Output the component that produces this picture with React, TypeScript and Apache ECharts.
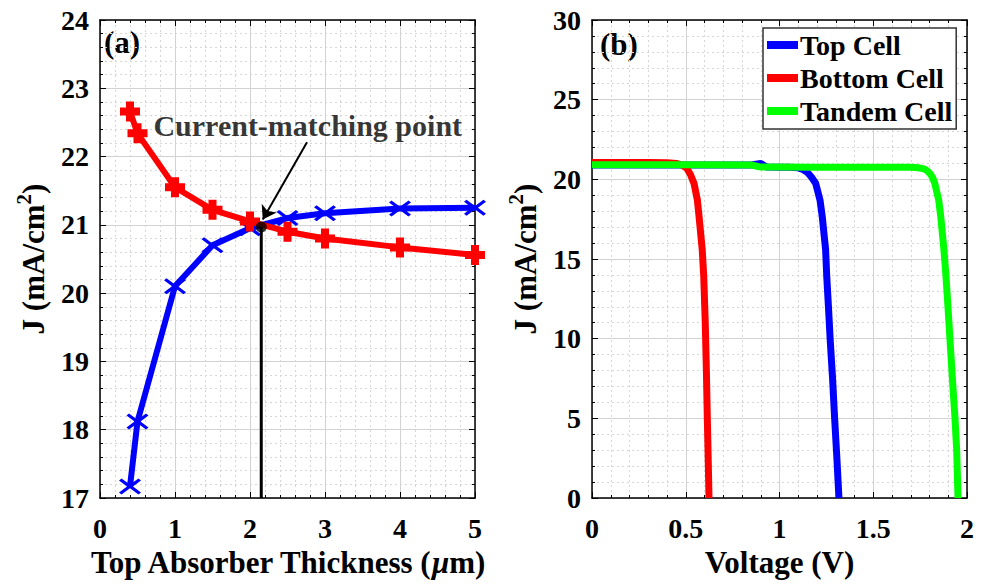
import React, { useEffect, useRef } from 'react';
import * as echarts from 'echarts';

const FONT = '"Liberation Serif", "Times New Roman", serif';

// ---- Panel (a) data ----
const thickness = [0.4, 0.5, 1, 1.5, 2, 2.5, 3, 4, 5];
const topCellJ = [17.17, 18.12, 20.1, 20.7, 20.95, 21.1, 21.17, 21.24, 21.25];
const bottomCellJ = [22.66, 22.34, 21.55, 21.22, 21.05, 20.9, 20.8, 20.67, 20.56];
const matchPoint = [2.15, 20.97];
const arrowStart = [2.76, 22.21];
const arrowEnd = [2.17, 21.08];
const annotationPos = [2.77, 22.46];
const leftXTicks = { min: 0, max: 5, interval: 1 };
const leftYTicks = { min: 17, max: 24, interval: 1 };

// ---- Panel (b) data ----
const topV = [0, 0.3, 0.6, 0.85, 0.9, 0.93, 1.0, 1.05, 1.1, 1.125, 1.148, 1.17, 1.193, 1.216, 1.228, 1.246, 1.252, 1.262, 1.27, 1.283, 1.294, 1.306, 1.317];
const topJ = [20.9, 20.9, 20.9, 20.9, 21.0, 20.78, 20.76, 20.76, 20.72, 20.62, 20.45, 20.15, 19.75, 18.7, 17.66, 15.57, 13.9, 11.8, 10.0, 7.5, 5.0, 2.5, 0];
const bottomV = [0, 0.1, 0.2, 0.3, 0.4, 0.45, 0.48, 0.505, 0.525, 0.544, 0.562, 0.571, 0.588, 0.596, 0.604, 0.61, 0.615, 0.62, 0.624];
const bottomJ = [21.05, 21.05, 21.05, 21.05, 21.04, 21.0, 20.9, 20.7, 20.3, 19.75, 18.7, 17.66, 15.57, 13.9, 11.0, 8.0, 5.0, 2.3, 0];
const tandemV = [0, 0.5, 0.85, 0.9, 1.2, 1.5, 1.7, 1.74, 1.77, 1.79, 1.805, 1.817, 1.828, 1.849, 1.86, 1.877, 1.888, 1.899, 1.909, 1.922, 1.936, 1.945, 1.952];
const tandemJ = [20.92, 20.92, 20.9, 20.77, 20.76, 20.76, 20.76, 20.73, 20.66, 20.52, 20.33, 20.1, 19.75, 18.7, 17.66, 15.57, 13.9, 11.9, 10.0, 7.5, 5.0, 3.0, 0];
const rightXTicks = { min: 0, max: 2, interval: 0.5 };
const rightYTicks = { min: 0, max: 30, interval: 5 };

const legendNames = ['Top Cell', 'Bottom Cell', 'Tandem Cell'];
const colors = { top: '#0000ff', bottom: '#ff0000', tandem: '#00ff00' };

const zip = (xs: number[], ys: number[]) => xs.map((x, i) => [x, ys[i]]);

const X_SYMBOL = 'path://M0,2 L2.5,0 L11,6.2 L19.5,0 L22,2 L14,8 L22,14 L19.5,16 L11,9.8 L2.5,16 L0,14 L8,8 Z';
const PLUS_SYMBOL = 'path://M6,0 L14,0 L14,6 L20,6 L20,14 L14,14 L14,20 L6,20 L6,14 L0,14 L0,6 L6,6 Z';

const labelStyle = { color: '#000', fontFamily: FONT, fontWeight: 'bold' as const, fontSize: 28 };
const titleRich = {
  a: { fontFamily: FONT, fontWeight: 'bold' as const, fontSize: 31, color: '#000' },
  i: { fontFamily: FONT, fontWeight: 'bold' as const, fontStyle: 'italic' as const, fontSize: 31, color: '#000' },
  s: { fontFamily: FONT, fontWeight: 'bold' as const, fontSize: 21, color: '#000', padding: [0, 0, 20, 0] },
};

function mainAxis(grid: number, ticks: any, position: string, name: string, nameGap: number, labelMargin: number) {
  return {
    type: 'value',
    gridIndex: grid,
    position,
    ...ticks,
    name,
    nameLocation: 'middle',
    nameGap,
    nameTextStyle: { rich: titleRich },
    axisLine: { show: true, onZero: false, lineStyle: { color: '#000', width: 1.5 } },
    axisTick: { show: true, inside: true, length: 6, lineStyle: { color: '#000', width: 1 } },
    minorTick: { show: true, splitNumber: 5, length: 3, lineStyle: { color: '#000', width: 1 } },
    splitLine: { show: true, lineStyle: { color: '#d2d2d2', width: 1 } },
    minorSplitLine: { show: true, lineStyle: { color: '#d6d6d6', width: 1, type: [2, 3] } },
    axisLabel: { ...labelStyle, margin: labelMargin, showMinLabel: true, showMaxLabel: true, hideOverlap: false },
  };
}

function boxAxis(grid: number, ticks: any, position: string) {
  return {
    type: 'value',
    gridIndex: grid,
    position,
    ...ticks,
    axisLine: { show: true, onZero: false, lineStyle: { color: '#000', width: 1.5 } },
    axisTick: { show: true, inside: true, length: 6, lineStyle: { color: '#000', width: 1 } },
    minorTick: { show: true, splitNumber: 5, length: 3, lineStyle: { color: '#000', width: 1 } },
    splitLine: { show: false },
    minorSplitLine: { show: false },
    axisLabel: { show: false },
  };
}

export default function App() {
  const ref = useRef<HTMLDivElement>(null);
  useEffect(() => {
    if (!ref.current) return;
    const chart = echarts.init(ref.current, undefined, { renderer: 'svg' });
    const option: any = {
      animation: false,
      backgroundColor: '#fff',
      grid: [
        { left: 100, top: 20, width: 375, height: 478 },
        { left: 592, top: 20, width: 375, height: 478 },
      ],
      xAxis: [
        mainAxis(0, leftXTicks, 'bottom', '{a|Top Absorber Thickness (}{i|μ}{a|m)}', 46, 16),
        boxAxis(0, leftXTicks, 'top'),
        mainAxis(1, rightXTicks, 'bottom', '{a|Voltage (V)}', 46, 16),
        boxAxis(1, rightXTicks, 'top'),
      ],
      yAxis: [
        mainAxis(0, leftYTicks, 'left', '{a|J (mA/cm}{s|2}{a|)}', 46, 11),
        boxAxis(0, leftYTicks, 'right'),
        mainAxis(1, rightYTicks, 'left', '{a|J (mA/cm}{s|2}{a|)}', 46, 11),
        boxAxis(1, rightYTicks, 'right'),
      ],
      legend: {
        data: legendNames,
        orient: 'vertical',
        left: 763,
        top: 28,
        itemWidth: 31,
        itemHeight: 8,
        itemGap: 5,
        icon: 'rect',
        padding: [3, 4, 4, 4],
        borderColor: '#333',
        borderWidth: 1.5,
        borderRadius: 0,
        backgroundColor: '#fff',
        textStyle: { ...labelStyle, fontSize: 28, padding: [0, 0, 0, -3] },
      },
      graphic: [
        { type: 'text', left: 104, top: 27, style: { text: '(a)', fontFamily: FONT, fontWeight: 'bold', fontSize: 31, fill: '#000' } },
        { type: 'text', left: 600, top: 29, style: { text: '(b)', fontFamily: FONT, fontWeight: 'bold', fontSize: 31, fill: '#000' } },
      ],
      series: [
        {
          name: 'Top absorber - top cell',
          type: 'line',
          xAxisIndex: 0,
          yAxisIndex: 0,
          data: zip(thickness, topCellJ),
          color: colors.top,
          lineStyle: { width: 6, color: colors.top },
          symbol: X_SYMBOL,
          symbolSize: [22, 16],
          showSymbol: true,
          itemStyle: { color: colors.top },
          z: 3,
        },
        {
          name: 'Top absorber - bottom cell',
          type: 'line',
          xAxisIndex: 0,
          yAxisIndex: 0,
          data: zip(thickness, bottomCellJ),
          color: colors.bottom,
          lineStyle: { width: 6, color: colors.bottom },
          symbol: PLUS_SYMBOL,
          symbolSize: 20,
          showSymbol: true,
          itemStyle: { color: colors.bottom },
          z: 4,
        },
        {
          name: 'match line',
          type: 'line',
          xAxisIndex: 0,
          yAxisIndex: 0,
          data: [[matchPoint[0], leftYTicks.min], matchPoint],
          symbol: 'none',
          lineStyle: { width: 3, color: '#000' },
          z: 5,
        },
        {
          name: 'match point',
          type: 'scatter',
          xAxisIndex: 0,
          yAxisIndex: 0,
          data: [matchPoint],
          symbolSize: 11,
          itemStyle: { color: '#000' },
          z: 6,
          markLine: {
            silent: true,
            symbol: ['none', 'arrow'],
            symbolSize: 13,
            label: { show: false },
            lineStyle: { color: '#000', width: 2, type: 'solid' },
            data: [[{ coord: arrowStart }, { coord: arrowEnd }]],
          },
        },
        {
          name: 'annotation',
          type: 'scatter',
          xAxisIndex: 0,
          yAxisIndex: 0,
          silent: true,
          data: [annotationPos],
          symbolSize: 1,
          itemStyle: { color: 'rgba(0,0,0,0)' },
          label: {
            show: true,
            position: 'inside',
            formatter: 'Current-matching point',
            fontFamily: FONT,
            fontWeight: 'bold',
            fontSize: 30,
            color: '#000',
            textBorderWidth: 0,
          },
          z: 7,
        },
        {
          name: 'Top Cell',
          type: 'line',
          xAxisIndex: 2,
          yAxisIndex: 2,
          data: zip(topV, topJ),
          color: colors.top,
          symbol: 'none',
          lineStyle: { width: 7, color: colors.top },
          itemStyle: { color: colors.top },
        },
        {
          name: 'Bottom Cell',
          type: 'line',
          xAxisIndex: 2,
          yAxisIndex: 2,
          data: zip(bottomV, bottomJ),
          color: colors.bottom,
          symbol: 'none',
          lineStyle: { width: 7, color: colors.bottom },
          itemStyle: { color: colors.bottom },
        },
        {
          name: 'Tandem Cell',
          type: 'line',
          xAxisIndex: 2,
          yAxisIndex: 2,
          data: zip(tandemV, tandemJ),
          color: colors.tandem,
          symbol: 'none',
          lineStyle: { width: 7, color: colors.tandem },
          itemStyle: { color: colors.tandem },
        },
      ],
    };
    chart.setOption(option);
    return () => chart.dispose();
  }, []);
  return <div ref={ref} style={{ position: 'fixed', left: 0, top: 0, width: 988, height: 586, background: '#fff' }} />;
}
